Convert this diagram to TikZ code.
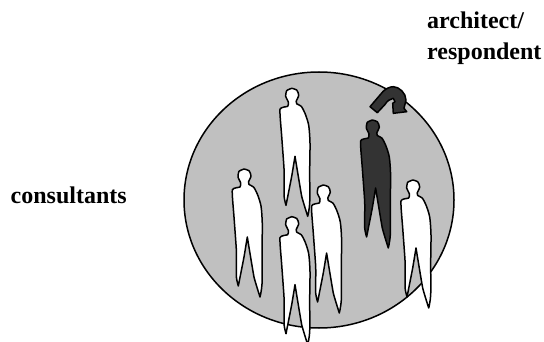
\documentclass[tikz,border=0pt]{standalone}
\usepackage{fontspec}
\setmainfont{Liberation Serif}
\definecolor{disc}{RGB}{192,192,192}
\definecolor{dark}{RGB}{51,51,51}
\tikzset{
  x=1pt,y=-1pt,
  figline/.style={draw=black,line width=1.5pt,line join=round},
  lbl/.style={font=\bfseries\fontsize{24}{31}\selectfont,align=left,anchor=base west,inner sep=0pt},
  pics/person/.style={code={
    \path[figline,fill=#1] plot[smooth,tension=0.45] coordinates {
      (0,0) (5,1.7) (7,7) (4.5,13) (5,15.5) (9.5,18) (13.3,25) (17,37) (18.3,55) (18,82) (18,115)
      (16,128)} -- plot[smooth,tension=0.2] coordinates {(16,128) (10,108) (3.3,68)} --
      plot[smooth,tension=0.2] coordinates {(3.3,68) (0,88) (-5.7,117)} --
      plot[smooth,tension=0.3] coordinates {(-5.7,117) (-7.6,108) (-7.6,82) (-10,48) (-11.7,21)
      (-4,18) (-3.3,14) (-6,8) (-5,2.3) (0,0)} -- cycle;
  }}
}
\begin{document}
\begin{tikzpicture}
\useasboundingbox (0,0) rectangle (544,342);
\fill[white] (0,0) rectangle (544,342);
\draw[figline,fill=disc] (319,200) ellipse [x radius=135, y radius=128];
\pic at (291.7,88.3) {person=white};
\pic at (372.3,120) {person=dark};
\pic at (412.7,180) {person=white};
\pic at (244,169) {person=white};
\pic at (323.3,185) {person=white};
\pic at (291.7,216.7) {person=white};
\draw[figline,fill=dark] (370,106.7) -- (383,91.5) .. controls (386,88.5) and (390,86.7) .. (393.3,86.7)
  .. controls (399,86.7) and (406,93) .. (406,100) -- (404,108.3) -- (406.7,111.7) -- (393.3,113.3) -- (392.7,103.3)
  -- (395,101.7) -- (393.3,98.3) .. controls (390,99) and (387,101) .. (385,104.5)
  -- (377.3,112.7) -- cycle;
\node[lbl] (arch) at (427,29) {architect/};
\node[lbl] (resp) at (427,60) {respondent};
\node[lbl] (cons) at (10.5,204) {consultants};
\end{tikzpicture}
\end{document}
